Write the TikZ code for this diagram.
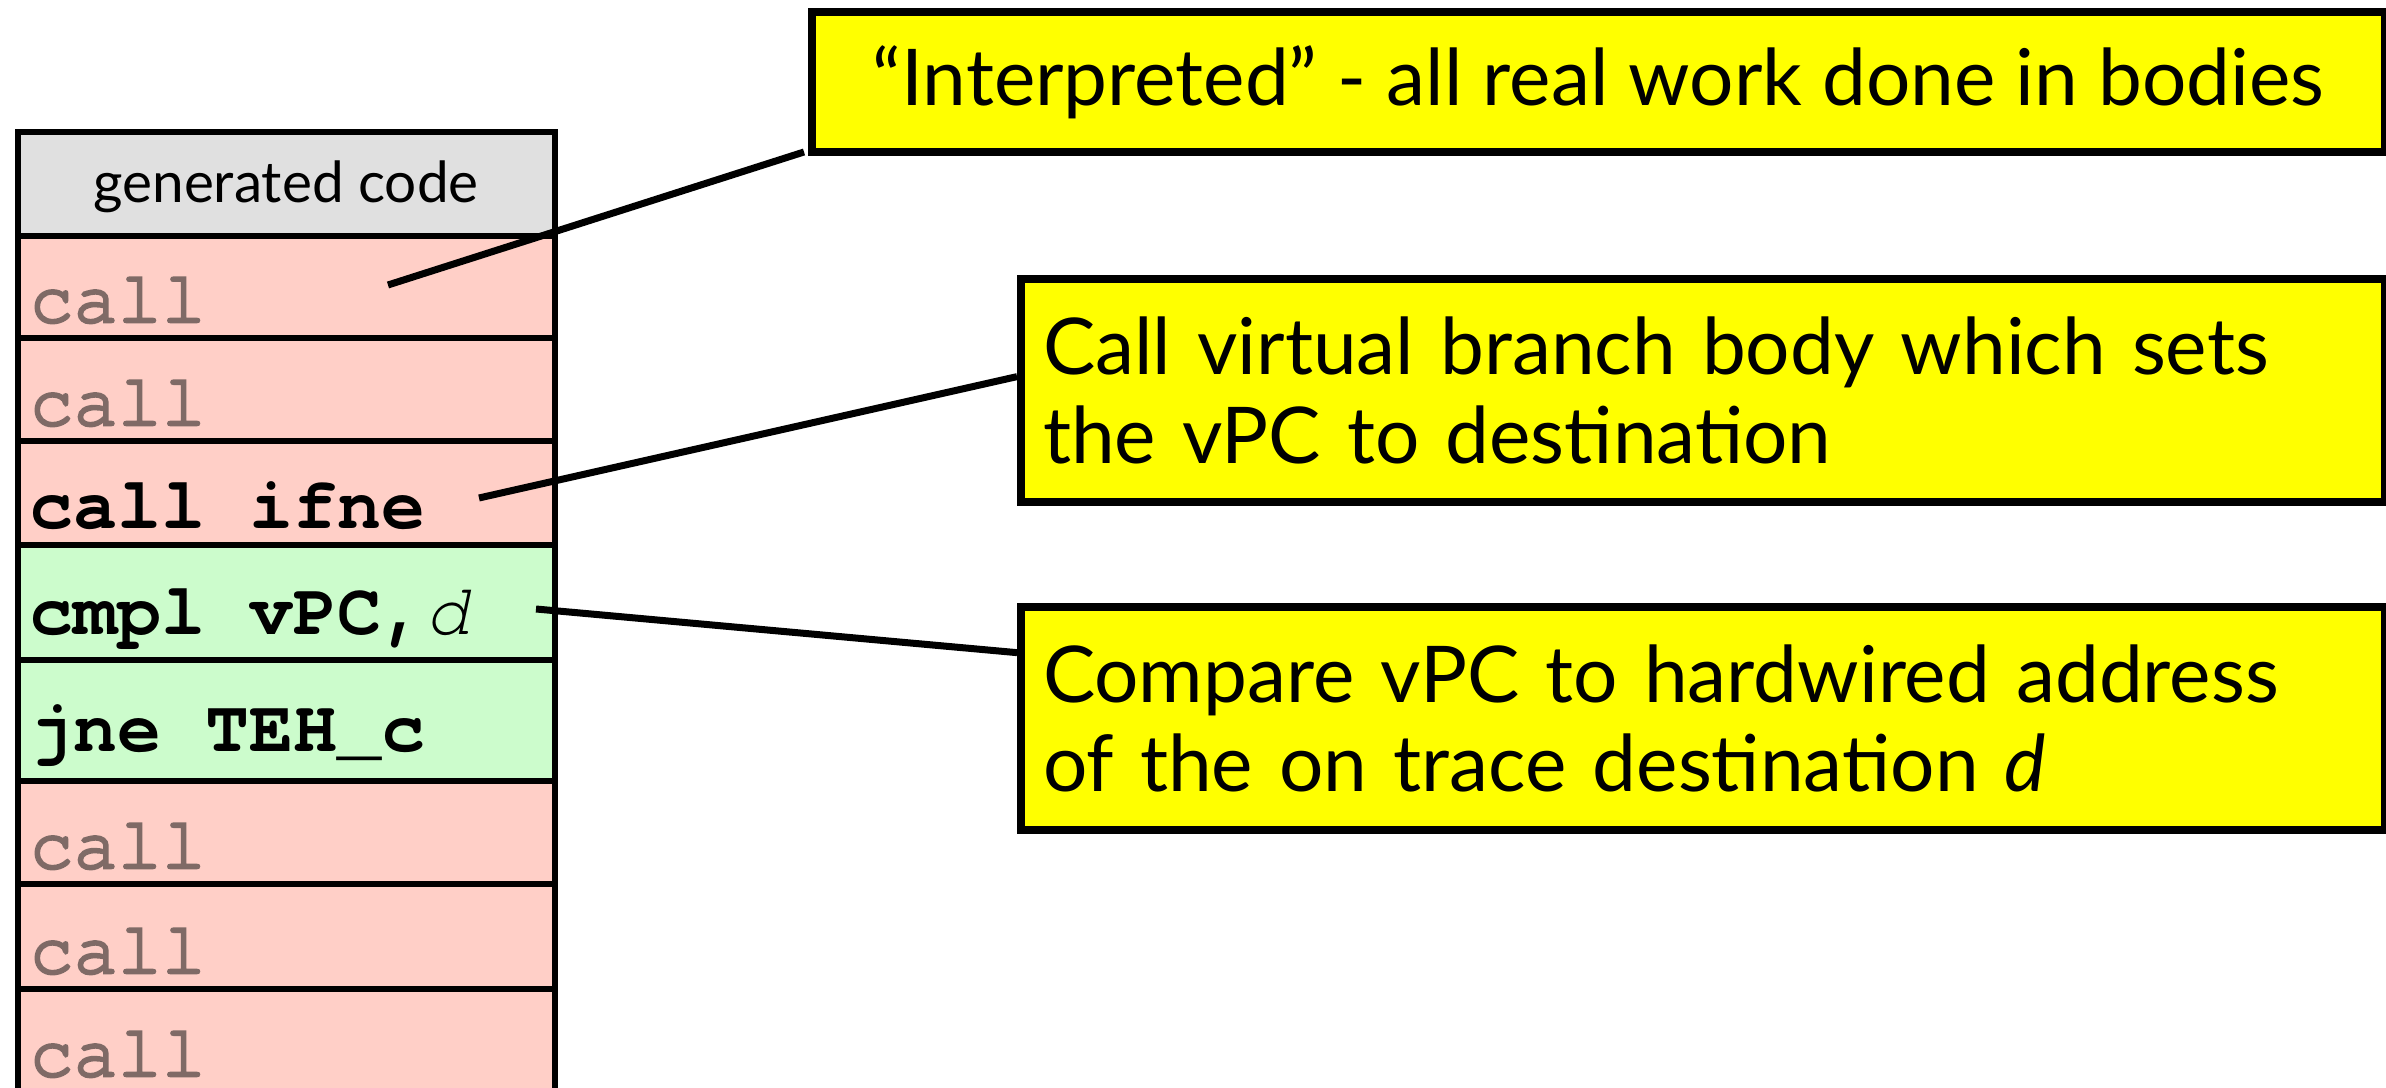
\documentclass[tikz,border=0pt]{standalone}
\usepackage{fontspec}
\setmainfont{Lato}
\setmonofont{TeX Gyre Cursor}
\newfontfamily\plaincode[UprightFeatures={FakeBold=3.5}]{TeX Gyre Cursor}
\usetikzlibrary{calc}

\definecolor{headgray}{HTML}{E0E0E0}
\definecolor{callpink}{HTML}{FFCFC7}
\definecolor{tracegreen}{HTML}{CCFCCC}
\definecolor{dimtext}{HTML}{7F6A66}
\definecolor{notebg}{HTML}{FFFF00}

\tikzset{
  coderow/.style={draw=black, line width=1.8pt, inner sep=0pt, anchor=north west,
    minimum width=161.1pt},
  codetext/.style={anchor=base west, inner sep=0pt,
    font=\fontsize{22}{22}\selectfont\plaincode},
  boldcode/.style={codetext, font=\fontsize{22}{22}\selectfont\ttfamily\bfseries},
  note/.style={draw=black, line width=2.4pt, fill=notebg, anchor=north west,
    inner sep=0pt, font=\fontsize{23.5}{26.8}\selectfont},
  conn/.style={draw=black, line width=2.1pt}
}

\begin{document}
\begin{tikzpicture}[x=0.3pt, y=-0.3pt]
\useasboundingbox (0,0) rectangle (2386,1088);
\clip (0,0) rectangle (2386,1088);

% column of generated code: rows given by pixel top / bottom
\node[coderow, fill=headgray,   minimum height={(233-129)*0.3pt}] (head) at (15,129) {};
\node[coderow, fill=callpink,   minimum height={(335-233)*0.3pt}] (r1) at (15,233) {};
\node[coderow, fill=callpink,   minimum height={(438-335)*0.3pt}] (r2) at (15,335) {};
\node[coderow, fill=callpink,   minimum height={(542-438)*0.3pt}] (r3) at (15,438) {};
\node[coderow, fill=tracegreen, minimum height={(657-542)*0.3pt}] (r4) at (15,542) {};
\node[coderow, fill=tracegreen, minimum height={(778-657)*0.3pt}] (r5) at (15,657) {};
\node[coderow, fill=callpink,   minimum height={(881-778)*0.3pt}] (r6) at (15,778) {};
\node[coderow, fill=callpink,   minimum height={(986-881)*0.3pt}] (r7) at (15,881) {};
\node[coderow, fill=callpink,   minimum height={(1110-986)*0.3pt}] (r8) at (15,986) {};

\node[anchor=base, inner sep=0pt, font=\fontsize{17}{17}\selectfont]
  (headtxt) at (286,203) {generated code};

\node[codetext, text=dimtext] (t1) at ([shift={(14,-19)}]r1.south west) {call};
\node[codetext, text=dimtext] (t2) at ([shift={(14,-19)}]r2.south west) {call};
\node[boldcode] (t3) at ([shift={(14,-19)}]r3.south west) {call ifne};
\node[boldcode] (t4) at ([shift={(14,-28)}]r4.south west) {cmpl vPC,\textmd{\textit{d}}};
\node[boldcode] (t5) at ([shift={(14,-32)}]r5.south west) {jne TEH\_c};
\node[codetext, text=dimtext] (t6) at ([shift={(14,-19)}]r6.south west) {call};
\node[codetext, text=dimtext] (t7) at ([shift={(14,-19)}]r7.south west) {call};
\node[codetext, text=dimtext] (t8) at ([shift={(14,-40)}]r8.south west) {call};

% explanatory notes
\node[note, minimum width={(2381-808)*0.3pt}, minimum height={(148-8)*0.3pt}]
  (box1) at (808,8) {“Interpreted” - all real work done in bodies};
\node[note, minimum width={(2381-1017)*0.3pt}, minimum height={(498-275)*0.3pt},
  text width={(2381-1017-44)*0.3pt}, align=left]
  (box2) at (1017,275) {Call virtual branch body which sets\\the vPC to destination};
\node[note, minimum width={(2381-1017)*0.3pt}, minimum height={(826-603)*0.3pt},
  text width={(2381-1017-44)*0.3pt}, align=left]
  (box3) at (1017,603) {Compare vPC to hardwired address\\of the on trace destination \textit{d}};

% connectors from the code rows to the notes
\coordinate (p1) at (388,285);
\coordinate (p2) at (479,498);
\coordinate (p3) at (536,609);
\draw[conn] (p1) -- ([shift={(-4,-4)}]box1.south west);
\draw[conn] (p2) -- ($(box2.north west)!0.44!(box2.south west)$);
\draw[conn] (p3) -- ($(box3.north west)!0.215!(box3.south west)$);
\end{tikzpicture}
\end{document}
